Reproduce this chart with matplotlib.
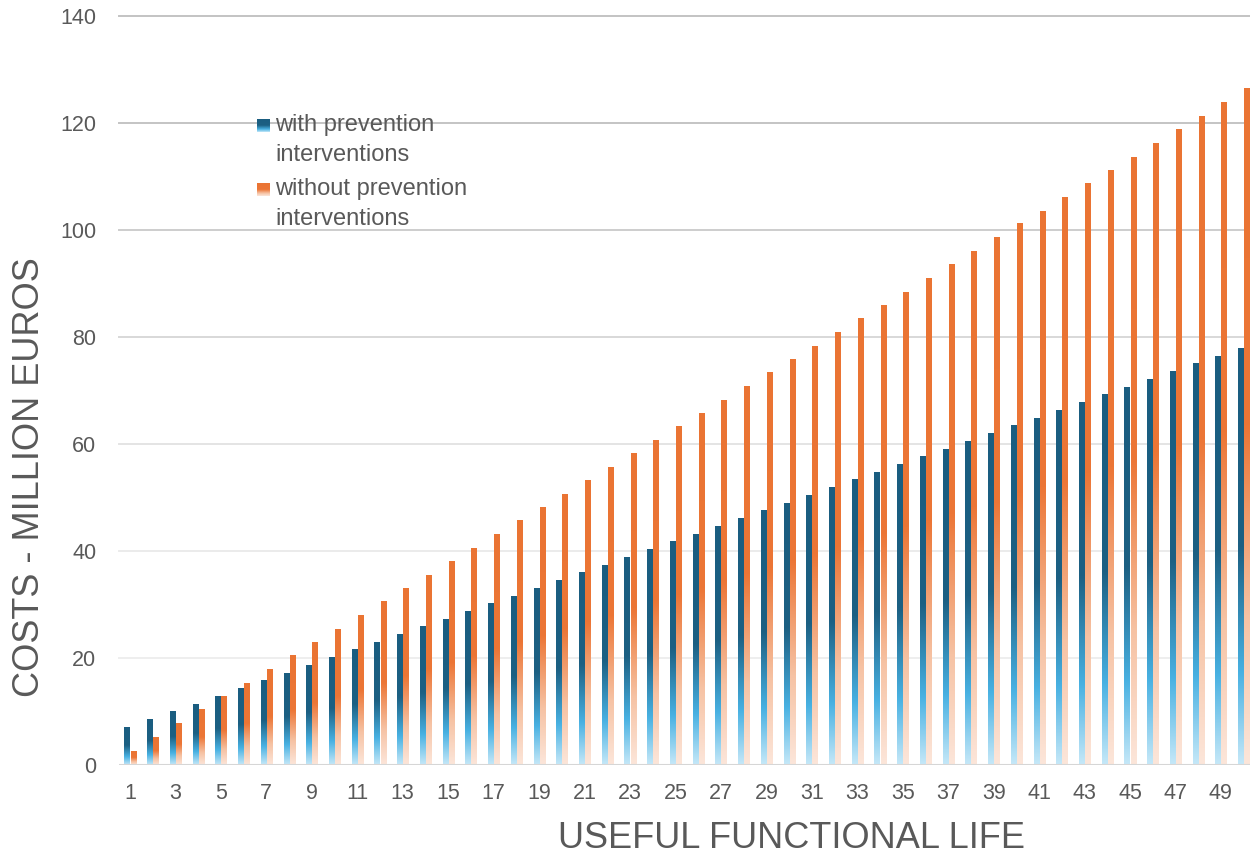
import numpy as np
import matplotlib
matplotlib.use("Agg")
import matplotlib.pyplot as plt
from matplotlib.colors import LinearSegmentedColormap

plt.rcParams['font.family'] = ['Liberation Sans', 'DejaVu Sans']

# Costs (million euros) for each year of useful functional life
years = list(range(1, 51))
with_prevention = [
    7.1, 8.6, 10.1, 11.4, 12.9, 14.4, 15.9, 17.2, 18.7, 20.2,
    21.7, 23.0, 24.4, 25.9, 27.3, 28.8, 30.2, 31.6, 33.1, 34.5,
    36.0, 37.4, 38.9, 40.3, 41.8, 43.2, 44.7, 46.1, 47.6, 49.0,
    50.5, 51.9, 53.4, 54.8, 56.2, 57.7, 59.1, 60.6, 62.0, 63.5,
    64.9, 66.4, 67.8, 69.3, 70.7, 72.2, 73.6, 75.1, 76.5, 78.0,
]
without_prevention = [
    2.7, 5.3, 7.8, 10.4, 12.9, 15.4, 17.9, 20.5, 23.0, 25.5,
    28.0, 30.6, 33.0, 35.6, 38.1, 40.6, 43.1, 45.7, 48.2, 50.7,
    53.2, 55.7, 58.3, 60.8, 63.3, 65.8, 68.3, 70.9, 73.4, 75.9,
    78.4, 81.0, 83.5, 86.0, 88.5, 91.0, 93.6, 96.1, 98.6, 101.3,
    103.6, 106.2, 108.7, 111.2, 113.7, 116.3, 118.8, 121.3, 123.9, 126.5,
]
series_labels = [["with prevention", "interventions"],
                 ["without prevention", "interventions"]]
y_ticks = [0, 20, 40, 60, 80, 100, 120, 140]

# vertical fills, bottom (0) to top (1)
blue_cmap = LinearSegmentedColormap.from_list("blue_fill", [
    (0.0, "#C6E8F8"), (0.22, "#48B1E2"), (0.52, "#1C6083"), (1.0, "#1A5D80")])
orange_cmap = LinearSegmentedColormap.from_list("orange_fill", [
    (0.0, "#FCE6DA"), (0.22, "#F6C2A3"), (0.50, "#EC7636"), (1.0, "#EA7433")])
grad = np.linspace(0, 1, 256).reshape(-1, 1)

W, H = 1250, 857
fig = plt.figure(figsize=(W / 100, H / 100), dpi=100)
ax = fig.add_axes([0.0949, 0.1074, 0.9091, 0.8739])

x = np.array(years, dtype=float)
width = 0.22
offset = 0.135

for vals, cmap, dx in [(with_prevention, blue_cmap, -offset),
                       (without_prevention, orange_cmap, offset)]:
    bars = ax.bar(x + dx, vals, width, facecolor="none", edgecolor="none", zorder=3)
    for bar in bars:
        x0 = bar.get_x()
        h = bar.get_height()
        im = ax.imshow(grad, cmap=cmap, origin="lower", aspect="auto",
                       extent=(x0, x0 + bar.get_width(), 0, h), zorder=3)
        im.set_clip_path(bar)

ax.set_xlim(0.5, 50.5)
ax.set_ylim(0, 140)

# gridlines get lighter towards the bottom
grid_colors = {20: "#eeeeee", 40: "#ebebeb", 60: "#e4e4e4", 80: "#d8d8d8",
               100: "#cdcdcd", 120: "#c4c4c4", 140: "#c3c3c3"}
for yv, c in grid_colors.items():
    ax.axhline(yv, color=c, lw=1.4, zorder=1, clip_on=False)
ax.axhline(0, color="#d6d6d6", lw=2.2, zorder=4)

for s in ax.spines.values():
    s.set_visible(False)

ax.set_yticks(y_ticks)
ax.set_xticks(years[::2])
ax.tick_params(axis="both", length=0, labelsize=15.5, labelcolor="#595959")
ax.tick_params(axis="y", pad=16)
ax.tick_params(axis="x", pad=13)

fig.text(0.024, 1 - 477 / H, "COSTS - MILLION EUROS", rotation=90, ha="center", va="center",
         fontsize=26, color="#595959")
fig.text(791 / W, 1 - 838 / H, "USEFUL FUNCTIONAL LIFE", ha="center", va="center",
         fontsize=26, color="#595959")

# legend drawn by hand so the swatches carry the same gradient
legend_rows = [(series_labels[0], blue_cmap, 125), (series_labels[1], orange_cmap, 189)]
for lines, cmap, yc in legend_rows:
    sw = fig.add_axes([257 / W, 1 - (yc + 7) / H, 13 / W, 13 / H])
    sw.imshow(grad, cmap=cmap, origin="lower", aspect="auto")
    sw.set_axis_off()
    for i, line in enumerate(lines):
        fig.text(275 / W, 1 - (yc + 30 * i) / H, line, ha="left", va="center",
                 fontsize=17, color="#595959")

fig.savefig("out.png", dpi=100)
